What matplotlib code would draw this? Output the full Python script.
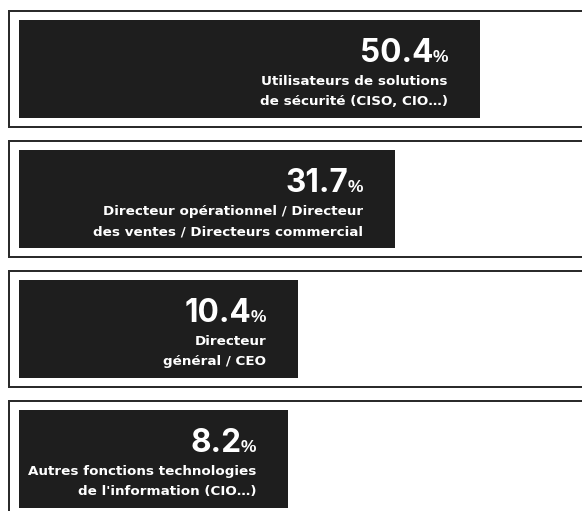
import matplotlib
matplotlib.use("Agg")
import matplotlib.pyplot as plt
from matplotlib.patches import Rectangle

values = [50.4, 31.7, 10.4, 8.2]
labels = [
    "Utilisateurs de solutions\nde sécurité (CISO, CIO…)",
    "Directeur opérationnel / Directeur\ndes ventes / Directeurs commercial",
    "Directeur\ngénéral / CEO",
    "Autres fonctions technologies\nde l'information (CIO…)",
]

W, H, DPI = 582, 511, 100
PX = 4.54          # pixels per data unit
BASE = 51.1        # minimum bar length (data units) so text fits
PITCH = 130.0      # pixels per row
BAR_H = 98 / PITCH
BOX_H = 116 / PITCH
BAR_COLOR = "#1e1e1e"
BORDER = "#2b2b2b"

fig = plt.figure(figsize=(W / DPI, H / DPI), dpi=DPI)
ax = fig.add_axes([0, 0, 1, 1])
ax.set_xlim(-19 / PX, (W - 19) / PX)
ax.set_ylim((H - 69) / PITCH, -69 / PITCH)
ax.axis("off")

y = list(range(len(values)))
widths = [BASE + v for v in values]

# outlined row boxes
for yi in y:
    ax.add_patch(Rectangle((-10 / PX, yi - BOX_H / 2), 200, BOX_H,
                           facecolor="white", edgecolor=BORDER,
                           linewidth=2 * 72 / DPI, zorder=1))

ax.barh(y, widths, left=0, height=BAR_H, color=BAR_COLOR, zorder=2)

fig.canvas.draw()
renderer = fig.canvas.get_renderer()

for yi, w, v, lab in zip(y, widths, values, labels):
    top = yi - BAR_H / 2
    pct = ax.annotate("%", xy=(w, top), xytext=(-32, -42), textcoords="offset pixels",
                      ha="right", va="baseline", color="white", fontsize=12.5,
                      fontweight="bold", family="Liberation Sans", zorder=3)
    pw = pct.get_window_extent(renderer).width
    ax.annotate(f"{v:.1f}", xy=(w, top), xytext=(-32 - pw + 1, -42),
                textcoords="offset pixels", ha="right", va="baseline",
                color="white", fontsize=22.7, fontweight="bold", family="Inter", zorder=3)
    for j, line in enumerate(lab.split("\n")):
        ax.annotate(line, xy=(w, top), xytext=(-32, -65 - 20 * j),
                    textcoords="offset pixels", ha="right", va="baseline",
                    color="white", fontsize=9.7, fontweight="bold", family="DejaVu Sans", zorder=3)

fig.savefig("out.png", dpi=DPI)
